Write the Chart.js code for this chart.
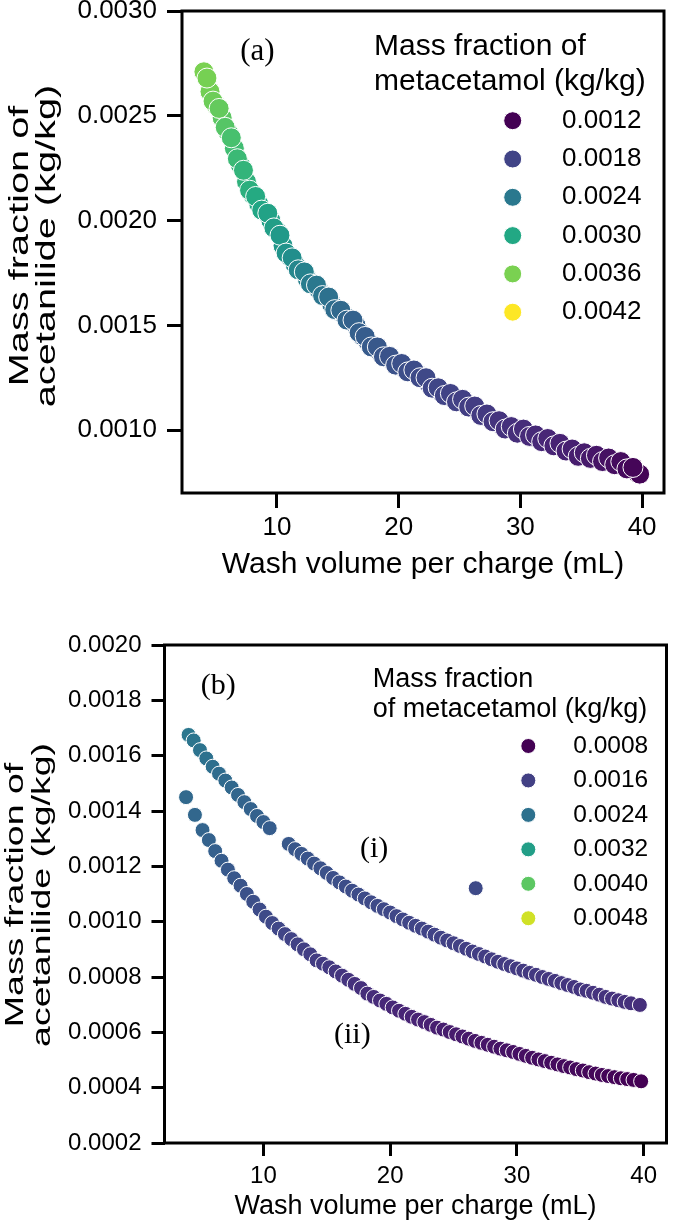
<!DOCTYPE html>
<html><head><meta charset="utf-8">
<script src="https://cdn.jsdelivr.net/npm/chart.js@4.4.1/dist/chart.umd.min.js"></script>
<style>
html,body{margin:0;padding:0;background:#fff;width:675px;height:1223px;overflow:hidden}
#wa{position:absolute;left:0;top:0;width:675px;height:600px}
#wb{position:absolute;left:0;top:600px;width:675px;height:623px}
</style></head><body>
<div id="wa"><canvas id="ca" width="675" height="600"></canvas></div>
<div id="wb"><canvas id="cb" width="675" height="623"></canvas></div>
<script>
// ---------- Panel (a) data ----------
const aX = [4.0,4.5,5.0,5.5,6.0,6.5,7.0,7.5,8.0,8.5,9.0,9.5,10.0,10.5,11.0,11.5,12.0,12.5,13.0,13.5,14.0,14.5,15.0,15.5,16.0,16.5,17.0,17.5,18.0,18.5,19.0,19.5,20.0,20.5,21.0,21.5,22.0,22.5,23.0,23.5,24.0,24.5,25.0,25.5,26.0,26.5,27.0,27.5,28.0,28.5,29.0,29.5,30.0,30.5,31.0,31.5,32.0,32.5,33.0,33.5,34.0,34.5,35.0,35.5,36.0,36.5,37.0,37.5,38.0,38.5,39.0,39.5,39.8];
const aY = [.002710,.002615,.002550,.002490,.002420,.002345,.002265,.002185,.002125,.002080,
  .002040,.002000,.001950,.001880,.001830,.001790,.001760,.001720,.001695,.001665,
  .001640,.001600,.001570,.001550,.001520,.001500,.001450,.001420,.001395,.001370,
  .001350,.001330,.001310,.001295,.001280,.001270,.001250,.001220,.001200,.001180,
  .001170,.001150,.001140,.001130,.001110,.001090,.001070,.001060,.001040,.001020,
  .001010,.001000,.000990,.000990,.000970,.000960,.000950,.000940,.000930,.000920,
  .000900,.000890,.000880,.000880,.000870,.000860,.000860,.000850,.000840,.000830,
  .000820,.000800,.000790];
const aHue = [.00360,.00356,.00351,.00344,.00336,.00327,.00318,.00312,.00306,.00300,
  .00294,.00290,.00285,.00278,.00270,.00262,.00255,.00249,.00243,.00238,
  .00234,.00230,.00225,.00220,.00216,.00213,.00210,.00207,.00204,.00201,
  .00198,.00196,.00195,.00192,.00190,.00188,.00186,.00184,.00183,.00181,
  .00180,.00178,.00177,.00175,.00174,.00172,.00171,.00169,.00167,.00164,
  .00162,.00160,.00159,.00157,.00156,.00154,.00153,.00151,.00150,.00148,
  .00147,.00145,.00144,.00142,.00140,.00137,.00135,.00133,.00131,.00128,
  .00126,.00123,.00122];
const aX2 = [4.25,4.75,5.25,5.75,6.25,6.75,7.25,7.75,8.25,8.75,9.25,9.75,10.25,10.75,11.25,11.75,12.25,12.75,13.25,13.75,14.25,14.75,15.25,15.75,16.25,16.75,17.25,17.75,18.25,18.75,19.25,19.75,20.25,20.75,21.25,21.75,22.25,22.75,23.25,23.75,24.25,24.75,25.25,25.75,26.25,26.75,27.25,27.75,28.25,28.75,29.25,29.75,30.25,30.75,31.25,31.75,32.25,32.75,33.25,33.75,34.25,34.75,35.25,35.75,36.25,36.75,37.25,37.75,38.25,38.75,39.25];
const aY2 = [.002680,.002570,.002535,.002445,.002395,.002295,.002240,.002145,.002115,.002050,
  .002035,.001965,.001930,.001845,.001822,.001765,.001755,.001698,.001692,.001642,
  .001635,.001575,.001572,.001525,.001525,.001465,.001447,.001397,.001397,.001350,
  .001352,.001310,.001318,.001278,.001287,.001250,.001250,.001200,.001202,.001165,
  .001175,.001135,.001147,.001110,.001115,.001070,.001077,.001040,.001045,.001005,
  .001017,.000985,.001005,.000970,.000977,.000945,.000960,.000925,.000937,.000900,
  .000910,.000875,.000892,.000865,.000880,.000850,.000867,.000835,.000850,.000815,
  .000822];
const aHue2 = [.00358,.00353,.00348,.00340,.00332,.00322,.00315,.00309,.00303,.00297,
  .00292,.00287,.00281,.00274,.00266,.00258,.00252,.00246,.00240,.00236,
  .00232,.00227,.00222,.00218,.00214,.00211,.00208,.00205,.00202,.00199,
  .00197,.00195,.00193,.00191,.00189,.00187,.00185,.00183,.00182,.00180,
  .00179,.00177,.00176,.00174,.00173,.00171,.00170,.00168,.00165,.00163,
  .00161,.00159,.00158,.00156,.00155,.00153,.00152,.00150,.00149,.00147,
  .00146,.00144,.00143,.00141,.00138,.00136,.00134,.00132,.00129,.00127,
  .00124];
const aHueRange = [0.0012, 0.0042];
const aLegendValues = [0.0012, 0.0018, 0.0024, 0.0030, 0.0036, 0.0042];
const aLegendTitle = ['Mass fraction of', 'metacetamol (kg/kg)'];
const aXTicks = [10, 20, 30, 40];
const aYTicks = [0.0010, 0.0015, 0.0020, 0.0025, 0.0030];
const aXRange = [2.2, 41.8];
const aYRange = [0.0007, 0.0030];
const aAnnText = ['(a)'];
const aAnnX = [8.4];
const aAnnY = [0.002805];

// ---------- Panel (b) data ----------
const bUpX = [4.1,4.5,5.0,5.5,6.0,6.5,7.0,7.5,8.0,8.5,9.0,9.5,10.0,10.5,
  12.0,12.5,13.0,13.5,14.0,14.5,15.0,15.5,16.0,16.5,17.0,17.5,18.0,18.5,19.0,19.5,20.0,20.5,21.0,21.5,22.0,22.5,23.0,23.5,24.0,24.5,25.0,25.5,26.0,26.5,27.0,27.5,28.0,28.5,29.0,29.5,30.0,30.5,31.0,31.5,32.0,32.5,33.0,33.5,34.0,34.5,35.0,35.5,36.0,36.5,37.0,37.5,38.0,38.5,39.0,39.7];
const bUpY = [.001675,.001655,.001620,.001590,.001560,.001535,.001510,.001485,.001458,.001432,.001407,.001382,.001360,.001338,
  .001281,.001262,.001245,.001228,.001210,.001193,.001176,.001158,.001142,.001127,.001112,.001098,.001084,.001070,.001057,.001045,
  .001033,.001020,.001008,.000996,.000985,.000975,.000964,.000953,.000942,.000932,.000922,.000912,.000902,.000892,.000883,.000874,
  .000864,.000855,.000847,.000839,.000831,.000823,.000815,.000808,.000800,.000793,.000786,.000778,.000771,.000764,.000755,.000750,
  .000743,.000736,.000728,.000722,.000716,.000710,.000705,.000699];
const bUpHue = [.00250,.00247,.00243,.00240,.00236,.00232,.00228,.00225,.00221,.00218,.00215,.00212,.00209,.00206,
  .00198,.00196,.00194,.00192,.00190,.00188,.00186,.00184,.00183,.00181,.00180,.00179,.00177,.00176,.00175,.00174,
  .00172,.00171,.00170,.00169,.00168,.00167,.00166,.00165,.00163,.00162,.00161,.00160,.00159,.00158,.00158,.00157,
  .00156,.00155,.00154,.00154,.00153,.00152,.00151,.00151,.00150,.00149,.00148,.00148,.00147,.00146,.00146,.00145,
  .00144,.00143,.00143,.00142,.00141,.00140,.00139,.00138];
const bLoX = [3.9,4.6,5.2,5.7,6.2,6.7,7.2,7.7,8.2,8.7,9.2,9.7,10.2,10.7,11.2,11.7,12.2,12.7,13.2,13.7,14.2,14.7,15.2,15.7,16.2,16.7,17.2,17.7,18.2,18.7,19.2,19.7,20.2,20.7,21.2,21.7,22.2,22.7,23.2,23.7,24.2,24.7,25.2,25.7,26.2,26.7,27.2,27.7,28.2,28.7,29.2,29.7,30.2,30.7,31.2,31.7,32.2,32.7,33.2,33.7,34.2,34.7,35.2,35.7,36.2,36.7,37.2,37.7,38.2,38.7,39.2,39.8];
const bLoY = [.001450,.001386,.001331,.001295,.001255,.001220,.001188,.001157,.001130,.001100,.001072,.001044,.001018,.000995,
  .000975,.000955,.000937,.000918,.000900,.000882,.000860,.000848,.000835,.000820,.000805,.000790,.000775,.000760,.000740,.000728,
  .000715,.000703,.000690,.000678,.000667,.000656,.000646,.000637,.000627,.000617,.000610,.000601,.000593,.000585,.000577,.000569,
  .000562,.000555,.000548,.000541,.000535,.000529,.000522,.000515,.000508,.000502,.000496,.000490,.000484,.000478,.000473,.000467,
  .000462,.000456,.000451,.000446,.000442,.000438,.000434,.000431,.000428,.000423];
const bLoHue = [.00226,.00222,.00218,.00214,.00210,.00205,.00200,.00196,.00191,.00187,.00183,.00179,.00175,.00172,
  .00170,.00167,.00165,.00163,.00160,.00158,.00156,.00154,.00151,.00149,.00146,.00144,.00141,.00139,.00136,.00134,
  .00132,.00130,.00128,.00126,.00125,.00123,.00122,.00120,.00119,.00117,.00116,.00114,.00113,.00111,.00110,.00108,
  .00107,.00106,.00104,.00103,.00101,.00100,.00099,.00098,.00097,.00096,.00095,.00094,.00093,.00092,.00091,.00090,
  .00089,.00088,.00087,.00086,.00085,.00084,.00083,.00082,.00081,.00080];
const bOutX = [26.75];
const bOutY = [0.001121];
const bOutHue = [0.00175];
const bHueRange = [0.0008, 0.0051];
const bLegendValues = [0.0008, 0.0016, 0.0024, 0.0032, 0.0040, 0.0048];
const bLegendTitle = ['Mass fraction', 'of metacetamol (kg/kg)'];
const bXTicks = [10, 20, 30, 40];
const bYTicks = [0.0002, 0.0004, 0.0006, 0.0008, 0.0010, 0.0012, 0.0014, 0.0016, 0.0018, 0.0020];
const bXRange = [2.2, 41.8];
const bYRange = [0.0002, 0.0020];
const bAnnText = ['(b)', '(i)', '(ii)'];
const bAnnX = [6.44, 18.74, 17.02];
const bAnnY = [0.001852, 0.001263, 0.000590];

const xTitle = 'Wash volume per charge (mL)';
const yTitle = ['Mass fraction of', 'acetanilide (kg/kg)'];

// ---------- helpers ----------
const SANS = '"Liberation Sans", Arial, Helvetica, sans-serif';
const SERIF = '"Liberation Serif", "Times New Roman", Times, serif';
const VIR = ['#440154','#482475','#414487','#355f8d','#2a788e','#21918c','#22a884','#44bf70','#7ad151','#bddf26','#fde725'];
function hex2rgb(h){return [parseInt(h.slice(1,3),16),parseInt(h.slice(3,5),16),parseInt(h.slice(5,7),16)];}
function viridis(t){
  t = Math.max(0, Math.min(1, t));
  const p = t * 10, i = Math.min(9, Math.floor(p)), f = p - i;
  const a = hex2rgb(VIR[i]), b = hex2rgb(VIR[i+1]);
  const c = a.map((v,k)=>Math.round(v + (b[k]-v)*f));
  return `rgb(${c[0]},${c[1]},${c[2]})`;
}
function hueColor(h, range){ return viridis((h - range[0])/(range[1]-range[0])); }
function pts(xs, ys){ return xs.map((x,i)=>({x:x, y:ys[i]})); }

function decorPlugin(cfg){
  return {
    id: 'decor',
    afterDraw(chart){
      const ctx = chart.ctx, ca = chart.chartArea;
      const sx = chart.scales.x, sy = chart.scales.y;
      ctx.save();
      // frame
      ctx.strokeStyle = '#000'; ctx.lineWidth = 3;
      ctx.strokeRect(ca.left, ca.top, ca.right - ca.left, ca.bottom - ca.top);
      // y-axis title (wide lettering, rotated)
      ctx.save();
      ctx.fillStyle = '#000';
      ctx.translate(0, cfg.yTitleCY);
      ctx.rotate(-Math.PI/2);
      ctx.scale(cfg.yTitleStretch, 1);
      ctx.font = cfg.yTitleSize + 'px ' + SANS;
      ctx.textAlign = 'center'; ctx.textBaseline = 'alphabetic';
      yTitle.forEach((t,i)=>ctx.fillText(t, 0, cfg.yTitleBase[i]));
      ctx.restore();
      // annotations
      ctx.fillStyle = '#000';
      ctx.font = cfg.annSize + 'px ' + SERIF;
      ctx.textAlign = 'center'; ctx.textBaseline = 'middle';
      cfg.annText.forEach((t,i)=>ctx.fillText(t, sx.getPixelForValue(cfg.annX[i]), sy.getPixelForValue(cfg.annY[i])));
      // legend
      ctx.textAlign = 'left'; ctx.textBaseline = 'alphabetic';
      ctx.font = cfg.legTitleSize + 'px ' + SANS;
      cfg.legTitle.forEach((t,i)=>ctx.fillText(t, cfg.titleX, cfg.titleY[i]));
      ctx.font = cfg.legLabelSize + 'px ' + SANS;
      ctx.textBaseline = 'middle';
      cfg.legValues.forEach((v,i)=>{
        const y = cfg.itemY0 + i*cfg.itemDy;
        ctx.beginPath(); ctx.arc(cfg.markerX, y, cfg.markerR, 0, Math.PI*2);
        ctx.fillStyle = hueColor(v, cfg.hueRange); ctx.fill();
        ctx.lineWidth = 1; ctx.strokeStyle = '#fff'; ctx.stroke();
        ctx.fillStyle = '#000';
        ctx.fillText(v.toFixed(4), cfg.labelX, y);
      });
      ctx.restore();
    }
  };
}

function makeChart(id, p){
  return new Chart(document.getElementById(id), {
    type: 'scatter',
    data: { datasets: p.sets.map(s=>({
      data: pts(s.x, s.y),
      pointRadius: p.r, pointHoverRadius: p.r,
      pointBackgroundColor: s.h.map(h=>hueColor(h, p.hueRange)),
      pointBorderColor: '#ffffff', pointBorderWidth: 1,
      showLine: false
    })) },
    options: {
      responsive: false, animation: false, devicePixelRatio: 1,
      layout: { padding: p.pad },
      plugins: { legend: {display:false}, tooltip: {enabled:false} },
      scales: {
        x: {
          type: 'linear', min: p.xRange[0], max: p.xRange[1],
          afterBuildTicks: s => { s.ticks = p.xTicks.map(v=>({value:v})); },
          afterFit: s => { s.height = p.xH; s.paddingLeft = 0; s.paddingRight = 0; },
          grid: { drawOnChartArea:false, drawTicks:true, tickLength:p.tl, tickWidth:3, tickColor:'#000', color:'#000' },
          border: { display:false },
          ticks: { color:'#000', font:{family:SANS, size:p.tick}, padding:p.xPad, maxRotation:0, autoSkip:false, callback: v => String(v) },
          title: { display:true, text:xTitle, color:'#000', font:{family:SANS, size:p.title, lineHeight:1.2}, padding:{top:0, bottom:p.xTitlePad} }
        },
        y: {
          type: 'linear', min: p.yRange[0], max: p.yRange[1],
          afterBuildTicks: s => { s.ticks = p.yTicks.map(v=>({value:v})); },
          afterFit: s => { s.width = p.yW; s.paddingTop = 0; s.paddingBottom = 0; },
          grid: { drawOnChartArea:false, drawTicks:true, tickLength:p.tl, tickWidth:3, tickColor:'#000', color:'#000' },
          border: { display:false },
          ticks: { color:'#000', font:{family:SANS, size:p.tick}, padding:p.yPad, autoSkip:false, callback: v => Number(v).toFixed(4) },
          title: { display:false }
        }
      }
    },
    plugins: [decorPlugin(p.decor)]
  });
}

makeChart('ca', {
  sets: [{x:aX2, y:aY2, h:aHue2}, {x:aX, y:aY, h:aHue}],
  r: 10, hueRange: aHueRange,
  pad: {left:0, top:10, right:3, bottom:0},
  xRange: aXRange, yRange: aYRange, xTicks: aXTicks, yTicks: aYTicks,
  xH: 107, yW: 182, tl: 15, tick: 26, title: 30, xPad: 4, yPad: 10, xTitlePad: 17,
  decor: {
    yTitleCY: 246, yTitleStretch: 1.42, yTitleSize: 28, yTitleBase: [28, 55],
    annText: aAnnText, annX: aAnnX, annY: aAnnY, annSize: 31,
    legTitle: aLegendTitle, legTitleSize: 30, titleX: 374, titleY: [55, 90],
    legValues: aLegendValues, legLabelSize: 26, hueRange: aHueRange,
    markerX: 512.7, markerR: 9, labelX: 562, itemY0: 120.7, itemDy: 38.3
  }
});

makeChart('cb', {
  sets: [{x:bLoX, y:bLoY, h:bLoHue}, {x:bUpX, y:bUpY, h:bUpHue}, {x:bOutX, y:bOutY, h:bOutHue}],
  r: 7.5, hueRange: bHueRange,
  pad: {left:0, top:45, right:1.5, bottom:0},
  xRange: bXRange, yRange: bYRange, xTicks: bXTicks, yTicks: bYTicks,
  xH: 80, yW: 164.5, tl: 13, tick: 24, title: 27, xPad: 6, yPad: 10, xTitlePad: 0,
  decor: {
    yTitleCY: 295, yTitleStretch: 1.44, yTitleSize: 26, yTitleBase: [23, 50],
    annText: bAnnText, annX: bAnnX, annY: bAnnY, annSize: 30,
    legTitle: bLegendTitle, legTitleSize: 27, titleX: 372.7, titleY: [86.7, 116.7],
    legValues: bLegendValues, legLabelSize: 24.5, hueRange: bHueRange,
    markerX: 528.3, markerR: 7.5, labelX: 573.3, itemY0: 146, itemDy: 34.45
  }
});
</script>
</body></html>
